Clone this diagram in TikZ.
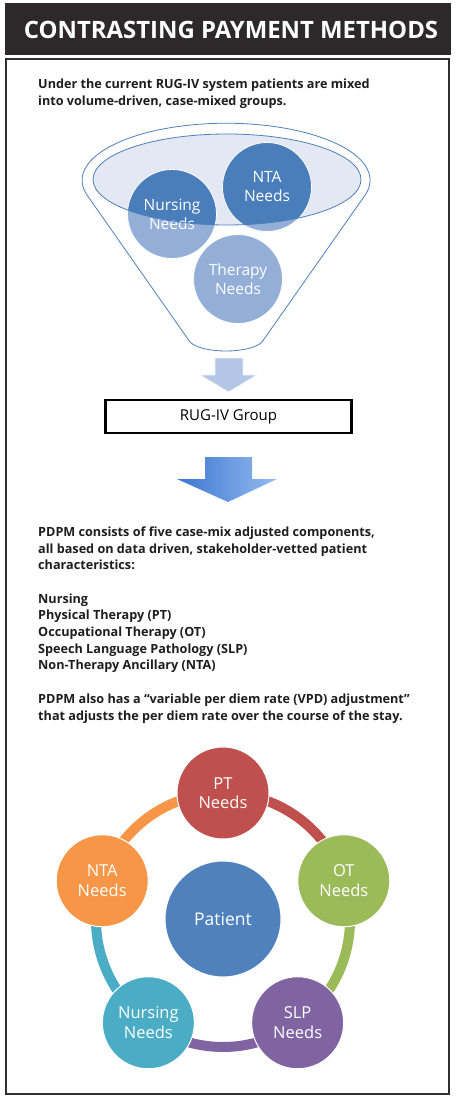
\documentclass[tikz,border=0pt]{standalone}
\usepackage{fontspec}
\setmainfont{Open Sans}
\usetikzlibrary{positioning}

\definecolor{titlebar}{HTML}{2D292A}
\definecolor{framegray}{HTML}{2F2F2F}
\definecolor{funnelblue}{HTML}{4F7FBC}
\definecolor{ellfill}{HTML}{E3E8F3}
\definecolor{needdark}{HTML}{4A7EBB}
\definecolor{needlight}{HTML}{93AFD8}
\definecolor{smallarrow}{HTML}{B4C6E5}
\definecolor{arrowdark}{HTML}{3C76D0}
\definecolor{arrowlight}{HTML}{95BBEF}
\definecolor{patientblue}{HTML}{4F81BD}
\definecolor{ptred}{HTML}{C0504D}
\definecolor{otgreen}{HTML}{9BBB59}
\definecolor{slppurple}{HTML}{8064A2}
\definecolor{nurseteal}{HTML}{4BACC6}
\definecolor{ntaorange}{HTML}{F79646}
\definecolor{bodyblack}{HTML}{1E1E1E}

\begin{document}
\begin{tikzpicture}[x=1pt,y=1pt,
    bodytext/.style={anchor=north west,align=left,inner sep=0pt,text=bodyblack,
        font=\bfseries\fontsize{12.65}{16.7}\selectfont},
    needcircle/.style={circle,minimum size=89pt,inner sep=0pt,draw=white,line width=0.8pt,
        fill=needlight,text=white,align=center,font=\fontsize{15.5}{19}\selectfont,
        path picture={\fill[needdark] (ellc) ellipse [x radius=134pt, y radius=45.5pt];}},
    ringcircle/.style={circle,minimum size=92pt,inner sep=0pt,draw=white,line width=1pt,
        text=white,align=center,font=\fontsize{16.5}{19.5}\selectfont}]

    \useasboundingbox (0,0) rectangle (456,-1102);
    \fill[white] (0,0) rectangle (456,-1102);

    % title and frame
    \fill[titlebar] (5,-3) rectangle (451,-55);
    \node[text=white,font=\bfseries\fontsize{23.9}{28}\selectfont] (title) at (231,-30) {CONTRASTING PAYMENT METHODS};
    \draw[framegray,line width=2pt] (6,-59) rectangle (449,-1094);

    \node[bodytext] (intro) at (38,-79) {Under the current RUG-IV system patients are mixed\\
        into volume-driven, case-mixed groups.};

    % funnel
    \coordinate (ellc) at (227,-179.5);
    \draw[funnelblue,line width=0.8pt] (190,-342) -- (87,-195)
        arc[start angle=195, end angle=-15, x radius=144, y radius=57]
        -- (262,-342) .. controls (250,-354) and (202,-354) .. (190,-342);
    \fill[ellfill] (ellc) ellipse [x radius=134, y radius=45.5];

    \node[needcircle] (nursing) at (172,-214) {Nursing\\Needs};
    \node[needcircle] (ntaneed) at (267,-187) {NTA\\Needs};
    \node[needcircle] (therapy) at (238,-279) {Therapy\\Needs};

    \draw[funnelblue,line width=0.8pt] (ellc) ellipse [x radius=134, y radius=45.5];

    % arrows and group box
    \filldraw[fill=smallarrow,draw=white!85!smallarrow,line width=0.8pt]
        (215,-358) -- (243,-358) -- (243,-375) -- (257,-375) -- (228.5,-392)
        -- (200,-375) -- (215,-375) -- cycle;
    \node[draw=black,line width=2.5pt,minimum width=246pt,minimum height=33pt,
        font=\fontsize{15}{18}\selectfont] (group) at (228.5,-416.5) {RUG-IV Group};
    \shade[left color=arrowdark,right color=arrowlight]
        (205,-457) -- (252,-457) -- (252,-479) -- (277,-479) -- (228,-502)
        -- (177,-479) -- (205,-479) -- cycle;

    \node[bodytext] (pdpm) at (38,-526.5) {PDPM consists of five case-mix adjusted components,\\
        all based on data driven, stakeholder-vetted patient\\
        characteristics:\\[16.7pt]
        Nursing\\
        Physical Therapy (PT)\\
        Occupational Therapy (OT)\\
        Speech Language Pathology (SLP)\\
        Non-Therapy Ancillary (NTA)\\[16.7pt]
        PDPM also has a “variable per diem rate (VPD) adjustment”\\
        that adjusts the per diem rate over the course of the stay.};

    % cycle of needs
    \coordinate (ringc) at (223,-920);
    \foreach \name/\ang/\col in {pt/90/ptred, ot/18/otgreen, slp/-54/slppurple,
        nurse/-126/nurseteal, nta/162/ntaorange}
        \draw[\col,line width=10pt] ([shift={(\ang:127)}]ringc)
            arc[start angle=\ang, end angle=\ang-72, radius=127];

    \node[circle,minimum size=116pt,inner sep=0pt,draw=white,line width=1pt,fill=patientblue,
        text=white,font=\fontsize{17.5}{20}\selectfont] (patient) at (223,-919) {Patient};

    \foreach \name/\ang/\col/\lbl in {pt/90/ptred/PT, ot/18/otgreen/OT, slp/-54/slppurple/SLP,
        nurse/-126/nurseteal/Nursing, nta/162/ntaorange/NTA}
        \node[ringcircle,fill=\col] (\name) at ([shift={(\ang:127)}]ringc) {\lbl\\Needs};

\end{tikzpicture}
\end{document}
